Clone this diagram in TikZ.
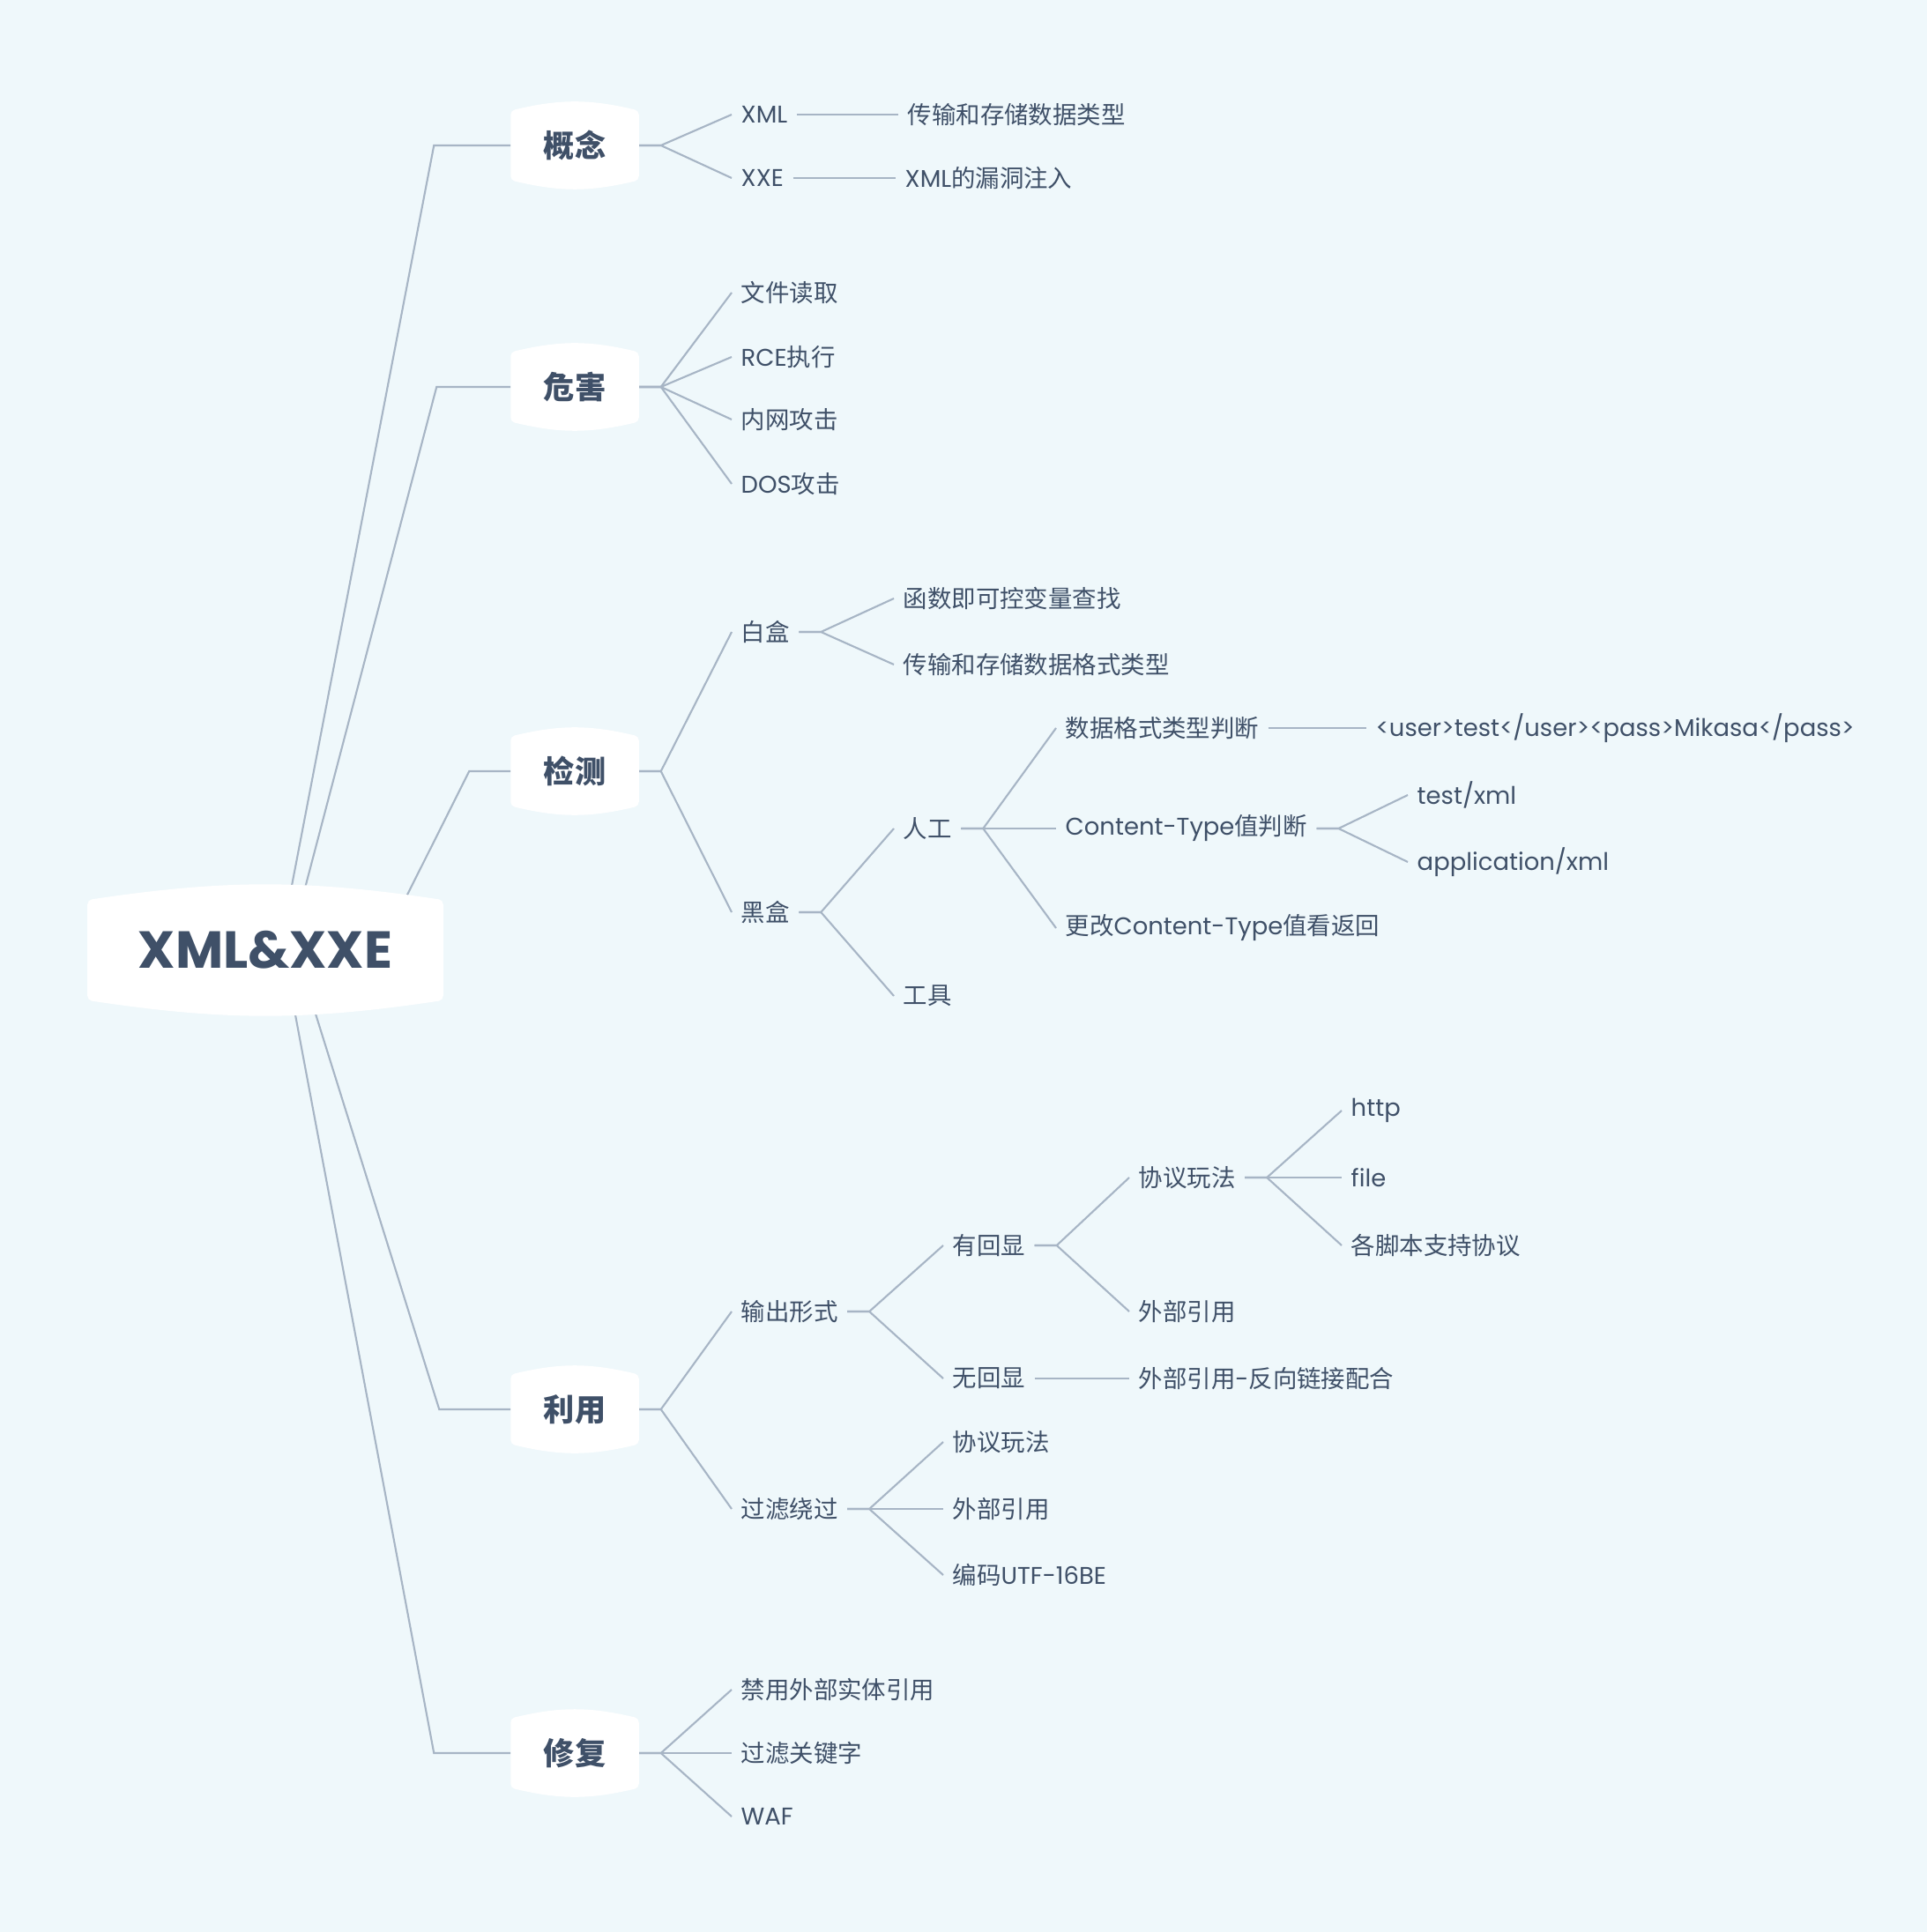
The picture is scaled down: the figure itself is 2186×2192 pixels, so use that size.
\documentclass[tikz,border=0pt]{standalone}
\usepackage{fontspec}
\setmainfont{Poppins}
\newfontfamily\cjk{Noto Sans CJK SC}
\usetikzlibrary{calc,backgrounds}
\definecolor{bgcol}{HTML}{EFF8FB}
\definecolor{inkcol}{HTML}{3F5068}
\definecolor{linecol}{HTML}{A7B5C5}
\newcommand\zh[1]{{\cjk #1}}
% white pill behind a topic node: node, bulge, bend angle
\newcommand\blobfill[3]{%
  \filldraw[white, line width=1.2mm, line join=round]
    ($(#1.north west)+(6,#2)$) to[bend left=#3] ($(#1.north east)+(-6,#2)$)
    -- ($(#1.south east)+(-6,-#2)$) to[bend left=#3] ($(#1.south west)+(6,-#2)$) -- cycle;}

\begin{document}
\begin{tikzpicture}[x=0.01cm, y=-0.01cm,
  leaf/.style={anchor=west, inner xsep=0.1cm, inner ysep=0.05cm, text=inkcol, font=\fontsize{7.8pt}{9pt}\selectfont},
  topic/.style={inner sep=0pt, minimum width=1.44cm, minimum height=0.98cm, text=inkcol, font=\fontsize{10pt}{12pt}\selectfont\bfseries},
  rootnode/.style={inner sep=0pt, minimum width=4.02cm, minimum height=1.48cm, text=inkcol, font=\fontsize{16.8pt}{19pt}\selectfont\bfseries},
  link/.style={draw=linecol, line width=0.6pt}]
\useasboundingbox (0,0) rectangle (2186,2192);

\node[rootnode] (root) at (301,1078) {XML\&XXE};

% 概念
\node[topic] (gainian) at (652,165) {\zh{概念}};
\node[leaf] (xml) at (830,130) {XML};
\node[leaf] (xxe) at (830,202) {XXE};
\node[leaf] (xmlA) at (1019,130) {\zh{传输和存储数据类型}};
\node[leaf] (xxeA) at (1016,202) {XML\zh{的漏洞注入}};

% 危害
\node[topic] (weihai) at (652,439) {\zh{危害}};
\node[leaf] (wh1) at (830,332) {\zh{文件读取}};
\node[leaf] (wh2) at (830,405) {RCE\zh{执行}};
\node[leaf] (wh3) at (830,476) {\zh{内网攻击}};
\node[leaf] (wh4) at (830,549) {DOS\zh{攻击}};

% 检测
\node[topic] (jiance) at (652,875) {\zh{检测}};
\node[leaf] (bai) at (830,717) {\zh{白盒}};
\node[leaf] (hei) at (830,1035) {\zh{黑盒}};
\node[leaf] (bai1) at (1014,679) {\zh{函数即可控变量查找}};
\node[leaf] (bai2) at (1014,754) {\zh{传输和存储数据格式类型}};
\node[leaf] (rg) at (1014,940) {\zh{人工}};
\node[leaf] (gj) at (1014,1130) {\zh{工具}};
\node[leaf] (rg1) at (1198,826) {\zh{数据格式类型判断}};
\node[leaf] (rg2) at (1198,940) {Content-Type\zh{值判断}};
\node[leaf] (rg3) at (1198,1053) {\zh{更改}Content-Type\zh{值看返回}};
\node[leaf] (rg1A) at (1550,826) {<user>test</user><pass>Mikasa</pass>};
\node[leaf] (ct1) at (1597,902) {test/xml};
\node[leaf] (ct2) at (1597,978) {application/xml};

% 利用
\node[topic] (liyong) at (652,1599) {\zh{利用}};
\node[leaf] (sc) at (830,1488) {\zh{输出形式}};
\node[leaf] (gl) at (830,1712) {\zh{过滤绕过}};
\node[leaf] (yhx) at (1070,1413) {\zh{有回显}};
\node[leaf] (whx) at (1070,1564) {\zh{无回显}};
\node[leaf] (xy) at (1281,1336) {\zh{协议玩法}};
\node[leaf] (wb) at (1281,1488) {\zh{外部引用}};
\node[leaf] (http) at (1522,1260) {http};
\node[leaf] (file) at (1522,1336) {file};
\node[leaf] (jb) at (1522,1413) {\zh{各脚本支持协议}};
\node[leaf] (whxA) at (1281,1564) {\zh{外部引用}-\zh{反向链接配合}};
\node[leaf] (gl1) at (1070,1636) {\zh{协议玩法}};
\node[leaf] (gl2) at (1070,1712) {\zh{外部引用}};
\node[leaf] (gl3) at (1070,1787) {\zh{编码}UTF-16BE};

% 修复
\node[topic] (xiufu) at (652,1989) {\zh{修复}};
\node[leaf] (xf1) at (830,1917) {\zh{禁用外部实体引用}};
\node[leaf] (xf2) at (830,1989) {\zh{过滤关键字}};
\node[leaf] (xf3) at (830,2061) {WAF};

\begin{pgfonlayer}{background}
\fill[bgcol] (0,0) rectangle (2186,2192);
% root to topics
\draw[link] ($(root.north)+(28,12)$) -- ($(gainian.west)+(-87,0)$) -- (gainian.west);
\draw[link] ($(root.north)+(43,12)$) -- ($(weihai.west)+(-84,0)$) -- (weihai.west);
\draw[link] ($(root.north)+(150,34)$) -- ($(jiance.west)+(-47,0)$) -- (jiance.west);
\draw[link] ($(root.south)+(54,-12)$) -- ($(liyong.west)+(-81,0)$) -- (liyong.west);
\draw[link] ($(root.south)+(32,-12)$) -- ($(xiufu.west)+(-87,0)$) -- (xiufu.west);
% forks
\foreach \c in {xml,xxe} \draw[link] (gainian.east) -- ++(25,0) -- (\c.west);
\foreach \c in {wh1,wh2,wh3,wh4} \draw[link] (weihai.east) -- ++(25,0) -- (\c.west);
\foreach \c in {bai,hei} \draw[link] (jiance.east) -- ++(25,0) -- (\c.west);
\foreach \c in {bai1,bai2} \draw[link] (bai.east) -- ++(25,0) -- (\c.west);
\foreach \c in {rg,gj} \draw[link] (hei.east) -- ++(25,0) -- (\c.west);
\foreach \c in {rg1,rg2,rg3} \draw[link] (rg.east) -- ++(25,0) -- (\c.west);
\foreach \c in {ct1,ct2} \draw[link] (rg2.east) -- ++(25,0) -- (\c.west);
\foreach \c in {sc,gl} \draw[link] (liyong.east) -- ++(25,0) -- (\c.west);
\foreach \c in {yhx,whx} \draw[link] (sc.east) -- ++(25,0) -- (\c.west);
\foreach \c in {xy,wb} \draw[link] (yhx.east) -- ++(25,0) -- (\c.west);
\foreach \c in {http,file,jb} \draw[link] (xy.east) -- ++(25,0) -- (\c.west);
\foreach \c in {gl1,gl2,gl3} \draw[link] (gl.east) -- ++(25,0) -- (\c.west);
\foreach \c in {xf1,xf2,xf3} \draw[link] (xiufu.east) -- ++(25,0) -- (\c.west);
% single links
\draw[link] (xml.east) -- (xmlA.west);
\draw[link] (xxe.east) -- (xxeA.west);
\draw[link] (rg1.east) -- (rg1A.west);
\draw[link] (whx.east) -- (whxA.west);
% pills
\blobfill{root}{23}{8.5}
\foreach \t in {gainian,weihai,jiance,liyong,xiufu} {\blobfill{\t}{15}{13.4}}
\end{pgfonlayer}
\end{tikzpicture}
\end{document}
